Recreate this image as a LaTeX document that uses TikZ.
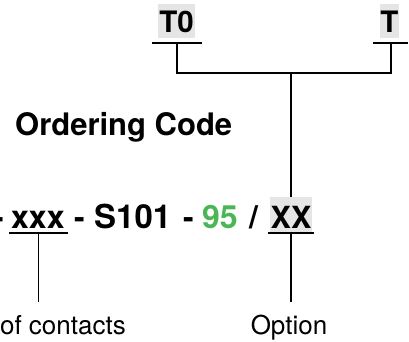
\documentclass[tikz,border=0pt]{standalone}
\usepackage{fontspec}
\setmainfont{TeX Gyre Heros}
\definecolor{boxgray}{RGB}{229,229,229}
\definecolor{codegreen}{RGB}{76,182,86}
\begin{document}
\begin{tikzpicture}[x=1pt,y=-1pt,
  code/.style={inner sep=0pt,anchor=base west,font=\bfseries\fontsize{32}{36}\selectfont},
  hl/.style={inner sep=0pt,anchor=base,fill=boxgray,font=\bfseries\fontsize{30.5}{36}\selectfont},
  toplbl/.style={inner sep=0pt,anchor=base,fill=boxgray,text height=28pt,text depth=6pt,font=\bfseries\fontsize{29.5}{34}\selectfont},
  lbl/.style={inner sep=0pt,anchor=base,font=\fontsize{26}{31}\selectfont},
  tree/.style={line width=1.8pt},
  uline/.style={line width=2pt},
  thin/.style={line width=1.1pt}]
\useasboundingbox (0,0) rectangle (409,341);
% top labels
\node[toplbl,minimum width=37pt] (t0) at (176.5,32) {T0};
\node[toplbl,minimum width=17pt] (t) at (389.5,32) {T};
\coordinate (t0u) at (177,43);
\coordinate (tu) at (391,43);
\draw[uline] (152,43) -- (t0u) -- (202,43);
\draw[uline] (373,43) -- (tu) -- (408,43);
\coordinate (j) at (291,73);
\draw[tree] (t0u) |- (j) -| (tu);
% title
\node[code,font=\bfseries\fontsize{31}{36}\selectfont] (title) at (15,135) {Ordering Code};
% code line
\node[code] (d1) at (-7,228) {-};
\node[code] (xxx) at (11,228) {xxx};
\node[code] (d2) at (74,228) {-};
\node[code,font=\bfseries\fontsize{33}{36}\selectfont] (s101) at (94,228) {S101};
\node[code] (d3) at (183,228) {-};
\node[code,text=codegreen] (n95) at (202,228) {95};
\node[code] (sl) at (249,228) {/};
\node[hl,minimum width=42pt,text height=31pt,text depth=5pt] (xx) at (291,228) {XX};
\draw[tree] (j) -- (xx.north);
\coordinate (xu) at (38.5,233);
\coordinate (xxu) at (291,233);
\draw[uline] (9,233) -- (xu) -- (68,233);
\draw[uline] (268,233) -- (xxu) -- (314,233);
% bottom labels
\node[lbl,anchor=base east] (contacts) at (126,334) {of contacts};
\node[lbl] (option) at (289,334) {Option};
\coordinate (cend) at (38.5,302);
\coordinate (oend) at (291,302);
\draw[thin] (xu) -- (cend);
\draw[thin] (xxu) -- (oend);
\end{tikzpicture}
\end{document}
